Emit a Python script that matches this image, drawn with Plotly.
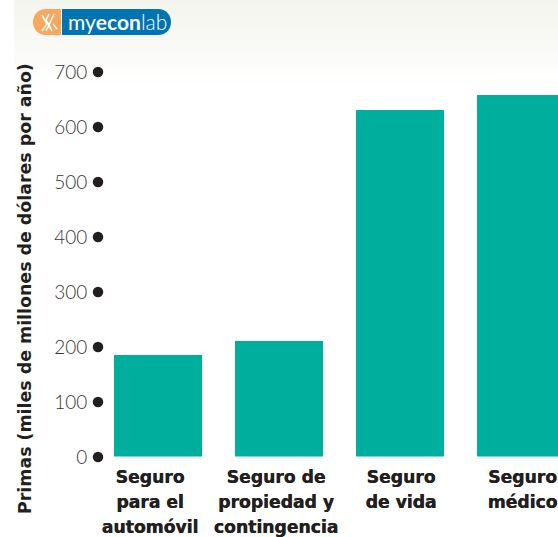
import plotly.graph_objects as go

category_lines = [["Seguro", "para el", "automóvil"], ["Seguro de", "propiedad y", "contingencia"], ["Seguro", "de vida"], ["Seguro", "médico"]]
premiums = [185, 210, 630, 658]
y_ticks = [0, 100, 200, 300, 400, 500, 600, 700]
y_title = "Primas (miles de millones de dólares por año)"

W, H = 558, 537
L, R, T, B = 97, 0, 58, 79
pw, ph = W - L - R, H - T - B
px = lambda x: (x - L) / pw
py = lambda y: (H - B - y) / ph
FONT = "Lato"
BOLD = "DejaVu Sans"
DARK = "#231F20"
positions = list(range(len(category_lines)))
label_shift_px = [-8, -3, 1, 1.5]
label_positions = [p + s / 121 for p, s in zip(positions, label_shift_px)]
categories = ["<br>".join(f'<span style="font-size:17.2px">{s}</span>' for s in lines) for lines in category_lines]

def rect(x0, y0, x1, y1, color):
    return dict(type="rect", xref="paper", yref="paper", x0=px(x0), x1=px(x1), y0=py(y0), y1=py(y1),
                fillcolor=color, line_width=0, layer="below")

def path(points, color=None, line=None, width=0):
    d = ""
    for cmd, *pts in points:
        d += cmd + " ".join(f"{px(pts[i]):.5f},{py(pts[i+1]):.5f}" for i in range(0, len(pts), 2))
    return dict(type="path", xref="paper", yref="paper", path=d, fillcolor=color,
                line=dict(color=line or "rgba(0,0,0,0)", width=width), layer="above")

shapes = []
steps = 17
for i in range(steps):
    f = i / steps
    c = lambda a: int(round(a + (255 - a) * f))
    shapes.append(rect(14, i * 5, W, (i + 1) * 5, f"rgb({c(243)},{c(245)},{c(238)})"))

t, b = 9, 35
shapes.append(path([("M", 61, t), ("L", 46, t), ("C", 38, t, 33, 15, 33, 22), ("C", 33, 29, 38, b, 46, b), ("L", 61, b), ("Z",)], "#F8A75C"))
shapes.append(path([("M", 62, t), ("L", 158, t), ("C", 166, t, 171, 15, 171, 22), ("C", 171, 29, 166, b, 158, b), ("L", 62, b), ("Z",)], "#0073B1"))
for seg in ([(42, 15), (47, 24), (42, 31)], [(49, 14), (46, 20), (52, 31)], [(54, 14), (49, 25), (46, 31)], [(53, 24), (57, 29)]):
    shapes.append(path([("M", *seg[0])] + [("L", *p) for p in seg[1:]], None, "white", 1.6))

fig = go.Figure()
fig.add_bar(x=positions, y=premiums, width=88 / 121, marker=dict(color="#00AE9D", line_width=0), yaxis="y")
fig.add_scatter(x=[(98 - 158) / 121] * len(y_ticks), y=y_ticks, mode="markers", yaxis="y2", cliponaxis=False,
                marker=dict(color=DARK, size=10.5, line_width=0))

fig.update_layout(
    width=W, height=H, autosize=False, showlegend=False, bargap=0,
    margin=dict(l=L, r=R, t=T, b=B, autoexpand=False),
    paper_bgcolor="white", plot_bgcolor="rgba(0,0,0,0)",
    shapes=shapes,
    xaxis=dict(range=[(97 - 158) / 121, (558 - 158) / 121], tickmode="array", tickvals=label_positions, ticktext=categories,
               tickangle=0, showgrid=False, zeroline=False, showline=False,
               ticks="outside", ticklen=3, tickcolor="rgba(0,0,0,0)",
               tickfont=dict(family=BOLD, size=19, color=DARK, weight="bold", shadow=f"0.4px 0 0 {DARK}")),
    yaxis=dict(domain=[1.5 / ph, 1], range=[0, 724.5], showgrid=False, zeroline=False, showline=False, showticklabels=False),
    yaxis2=dict(domain=[1 / ph, 1 - 0.5 / ph], range=[0, 724.5], anchor="x", tickmode="array", tickvals=y_ticks,
                showgrid=False, zeroline=False, showline=False, ticks="outside", ticklen=5, tickcolor="rgba(0,0,0,0)",
                tickfont=dict(family=FONT, size=19, color="#3A3637", weight=300)),
    annotations=[
        dict(text=f"<b>{y_title}</b>", textangle=-90, xref="paper", yref="paper", x=px(25), y=py(289), showarrow=False,
             font=dict(family=BOLD, size=17.4, color=DARK), xanchor="center", yanchor="middle"),
        dict(text='<span style="font-weight:400">my</span><b>econ</b><span style="font-weight:300">lab</span>',
             xref="paper", yref="paper", x=px(117), y=py(22), showarrow=False,
             font=dict(family=FONT, size=21, color="white"), xanchor="center", yanchor="middle"),
    ],
)
fig.write_html("out.html", config=dict(displayModeBar=False),
               post_script="document.body.style.margin='0';document.documentElement.style.overflow='hidden';")
